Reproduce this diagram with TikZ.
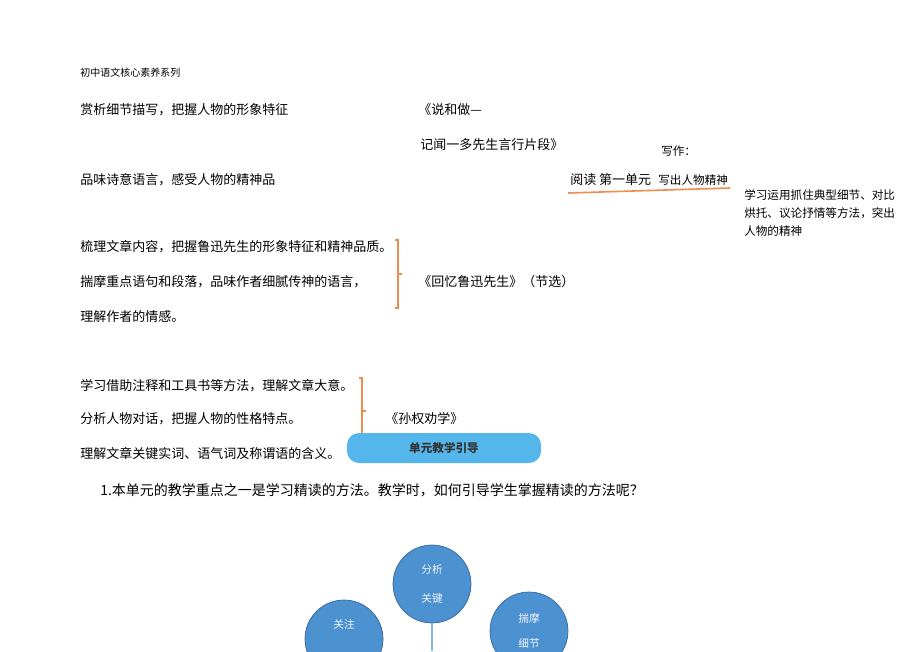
\documentclass[tikz,border=0pt]{standalone}
\usepackage{fontspec}
\setmainfont{Noto Sans CJK SC}
\usetikzlibrary{positioning}
\definecolor{lineorange}{RGB}{240,140,80}
\definecolor{boxblue}{RGB}{85,182,236}
\definecolor{circleblue}{RGB}{76,145,208}
\definecolor{circleedge}{RGB}{55,100,150}
\definecolor{stemblue}{RGB}{130,185,225}
\tikzset{
    textline/.style={anchor=west, inner sep=0pt, font=\fontsize{9.75}{12}\selectfont},
    smalltext/.style={anchor=west, inner sep=0pt, font=\fontsize{8.7}{13.5}\selectfont},
    bracket/.style={draw=lineorange, line width=0.8pt},
    guidebox/.style={%
        fill=boxblue, rounded corners=9pt,
        minimum width=145.5pt, minimum height=22.5pt,
        font=\fontsize{8.7}{10}\selectfont\bfseries, text=black!80
        },
    topic/.style={%
        circle, fill=circleblue, draw=circleedge, line width=0.5pt,
        minimum size=58.5pt, inner sep=0pt, align=center,
        text=white!92!circleblue,
        font=\fontsize{8}{21.75}\selectfont
        }
}

\begin{document}
\begin{tikzpicture}[x=0.75pt, y=-0.75pt]

\clip (0,0) rectangle (920,651);
\fill[white] (0,0) rectangle (920,651);

\node[anchor=west, inner sep=0pt, font=\fontsize{7.5}{9}\selectfont] (header) at (80,73) {初中语文核心素养系列};

% lesson: shuo he zuo
\node[textline] (L1) at (80,110) {赏析细节描写，把握人物的形象特征};
\node[textline] (L2) at (80,180) {品味诗意语言，感受人物的精神品};
\node[textline] (Shuo) at (418,110) {《说和做—};
\node[textline] (Jiwen) at (420,145) {记闻一多先生言行片段》};

% unit title
\node[smalltext] (Xiezuo) at (661,151) {写作：};
\node[textline] (Yuedu) at (570,180) {阅读\ 第一单元};
\node[smalltext, right=5pt of Yuedu] (Xiechu) {写出人物精神};
\coordinate (ulA) at (568,193);
\coordinate (ulB) at (730,188);
\draw[draw=lineorange, line width=1.2pt] (ulA) -- (ulB);
\node[smalltext, align=left, anchor=north west] (Goal) at (744,189) {学习运用抓住典型细节、对比\\烘托、议论抒情等方法，突出\\人物的精神};

% lesson: huiyi lu xun
\node[textline] (L3) at (80,247) {梳理文章内容，把握鲁迅先生的形象特征和精神品质。};
\node[textline] (L4) at (80,282) {揣摩重点语句和段落，品味作者细腻传神的语言，};
\node[textline] (L5) at (80,317) {理解作者的情感。};
\node[textline] (Huiyi) at (418,282) {《回忆鲁迅先生》（节选）};
\draw[bracket] (395,240) -- (398,240) -- (398,308) -- (395,308);
\draw[bracket] (398,274) -- (402,274);

% lesson: sun quan quan xue
\node[textline] (L6) at (80,386) {学习借助注释和工具书等方法，理解文章大意。};
\node[textline] (L7) at (80,419) {分析人物对话，把握人物的性格特点。};
\node[textline] (L8) at (80,453) {理解文章关键实词、语气词及称谓语的含义。};
\node[textline] (Sunquan) at (385,419) {《孙权劝学》};

\node[guidebox] (Guide) at (444,448) {单元教学引导};
\draw[bracket] (359,378) -- (362,378) -- (362,433);
\draw[bracket] (362,411) -- (366,411);

\node[anchor=west, inner sep=0pt, font=\fontsize{10.5}{12}\selectfont] (Question) at (100,490) {1.本单元的教学重点之一是学习精读的方法。教学时，如何引导学生掌握精读的方法呢？};

% reading methods
\node[topic] (Fenxi) at (432,584) {分析\\关键};
\node[topic] (Guanzhu) at (344,639) {关注\\\phantom{关注}};
\node[topic, font=\fontsize{8}{19}\selectfont] (Chuaimo) at (529,631) {揣摩\\细节};
\coordinate (stemEnd) at (432,651);
\draw[stemblue, line width=0.8pt] (Fenxi.south) -- (stemEnd);

\end{tikzpicture}
\end{document}
